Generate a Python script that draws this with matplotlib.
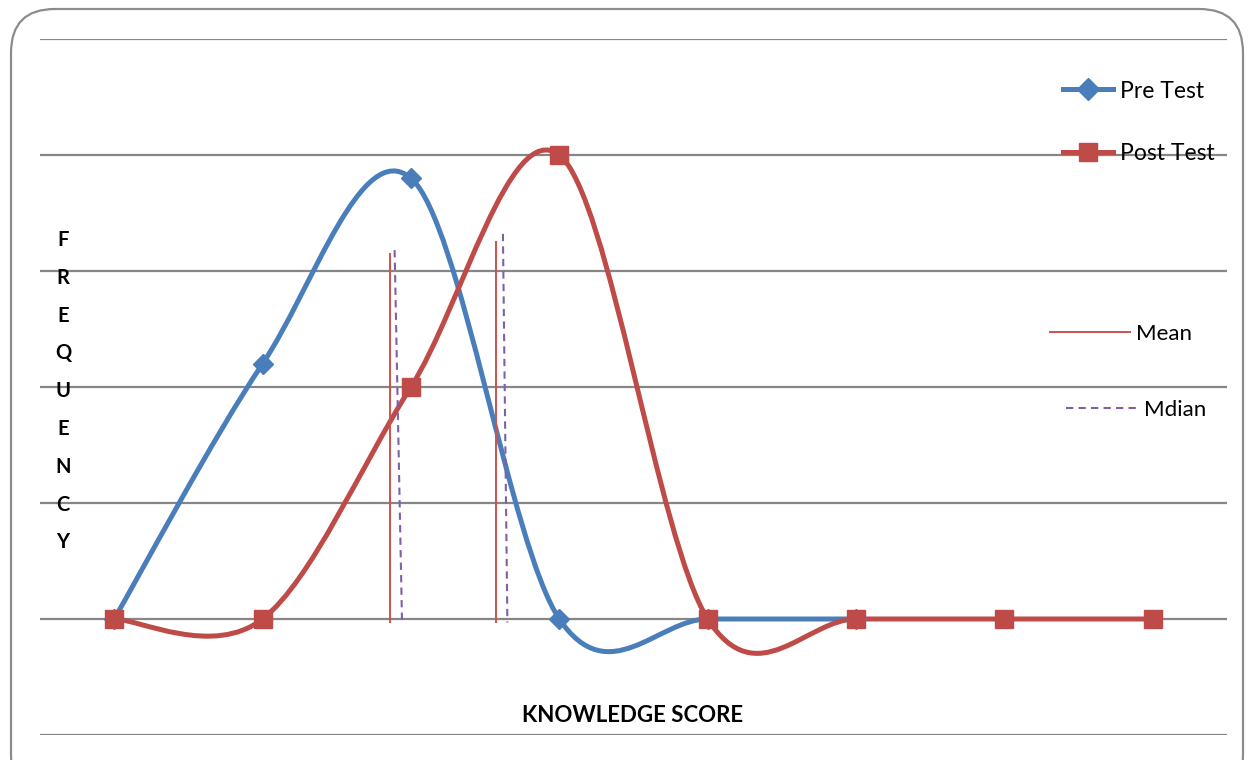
import matplotlib
matplotlib.use("Agg")
import matplotlib.pyplot as plt
from matplotlib.path import Path
from matplotlib.patches import PathPatch, FancyBboxPatch
from matplotlib.lines import Line2D

plt.rcParams["font.family"] = ["Lato", "DejaVu Sans"]

# Data (frequency units; gridlines every 10)
scores = ["1", "2", "3", "4", "5", "6", "7", "8"]
pre_test = [0, 22, 38, 0, 0, 0]
post_test = [0, 0, 20, 40, 0, 0, 0, 0]

# Mean / median markers drawn as lines (category position, top, bottom)
mean_x = [1.86, 2.57]
mean_top = [31.5, 32.5]
median_x_top = [1.89, 2.62]
median_x_bottom = [1.94, 2.65]
median_top = [31.8, 33.2]
line_bottom = -0.3

BLUE = "#4A7EBB"
RED = "#BE4B48"
MEAN_RED = "#D0504D"
PURPLE = "#7F60A8"
GRID = "#868686"
MEDIAN_DASH = (0, (3.5, 2.5))


def smooth_path(xs, ys):
    """Excel-style smoothed line: cubic Bezier with Catmull-Rom tangents."""
    pts = list(zip(xs, ys))
    n = len(pts)
    verts = [pts[0]]
    codes = [Path.MOVETO]
    for i in range(n - 1):
        p_prev = pts[i - 1] if i > 0 else pts[i]
        p0, p1 = pts[i], pts[i + 1]
        p_next = pts[i + 2] if i + 2 < n else pts[i + 1]
        c1 = (p0[0] + (p1[0] - p_prev[0]) / 6, p0[1] + (p1[1] - p_prev[1]) / 6)
        c2 = (p1[0] - (p_next[0] - p0[0]) / 6, p1[1] - (p_next[1] - p0[1]) / 6)
        verts += [c1, c2, p1]
        codes += [Path.CURVE4] * 3
    return Path(verts, codes)


W, H = 1253, 760
fig = plt.figure(figsize=(W / 100, H / 100), dpi=100)

# rounded chart frame (bottom edge runs off the picture)
frame = FancyBboxPatch((11 / W, -0.05), 1232 / W, 1 - 9 / H + 0.05,
                       boxstyle="round,pad=0,rounding_size=0.035",
                       transform=fig.transFigure, fill=False,
                       edgecolor="#8C8C8C", linewidth=1.6, mutation_aspect=W / H)
fig.patches.append(frame)

ax = fig.add_axes([40 / W, 25 / H, 1187 / W, 696 / H])
ax.set_xlim(-0.5, len(scores) - 0.5)
ax.set_ylim(-10, 50)
ax.set_yticks(range(-10, 51, 10))
ax.set_xticks([])
ax.tick_params(left=False, labelleft=False)
for s in ax.spines.values():
    s.set_visible(False)
ax.yaxis.grid(True, color=GRID, linewidth=1.6)
ax.set_axisbelow(True)

# mean & median lines
for x, top in zip(mean_x, mean_top):
    ax.plot([x, x], [top, line_bottom], color=MEAN_RED, linewidth=1.4)
for xt, xb, top in zip(median_x_top, median_x_bottom, median_top):
    ax.plot([xt, xb], [top, line_bottom], color=PURPLE, linewidth=1.5,
            linestyle=MEDIAN_DASH)

# series
for vals, color, marker, ms in [(pre_test, BLUE, "D", 10),
                                (post_test, RED, "s", 13.5)]:
    xs = list(range(len(vals)))
    ax.add_patch(PathPatch(smooth_path(xs, vals), fill=False, edgecolor=color,
                           linewidth=3.6, capstyle="round", joinstyle="round"))
    ax.plot(xs, vals, linestyle="none", marker=marker, markersize=ms,
            color=color, markeredgecolor=color)

# legends
h_series = [Line2D([], [], color=BLUE, linewidth=3.6, marker="D", markersize=11),
            Line2D([], [], color=RED, linewidth=3.6, marker="s", markersize=13.5)]
fig.legend(h_series, ["Pre Test", "Post Test"], loc="upper left",
           bbox_to_anchor=(1063 / W, 1 - 80.5 / H), frameon=False,
           fontsize=16.5, handlelength=2.2, handletextpad=0.3,
           labelspacing=1.8, borderaxespad=0, borderpad=0)

fig.legend([Line2D([], [], color=MEAN_RED, linewidth=1.4)], ["Mean"],
           loc="upper left", bbox_to_anchor=(1050 / W, 1 - 324 / H),
           frameon=False, fontsize=16, handlelength=3.6, handletextpad=0.25,
           borderaxespad=0, borderpad=0)
fig.legend([Line2D([], [], color=PURPLE, linewidth=1.5, linestyle=MEDIAN_DASH)],
           ["Mdian"], loc="upper left", bbox_to_anchor=(1066 / W, 1 - 400 / H),
           frameon=False, fontsize=16, handlelength=3.2, handletextpad=0.3,
           borderaxespad=0, borderpad=0)

# axis titles
fig.text(633 / W, 1 - 716 / H, "KNOWLEDGE SCORE", ha="center", va="center",
         fontsize=16, fontweight="bold")
ylabel = "FREQUENCY"
for i, ch in enumerate(ylabel):
    fig.text(63 / W, 1 - (240 + i * 37.8) / H, ch, ha="center", va="center",
             fontsize=14.5, fontweight="bold")

fig.savefig("out.png", dpi=100)
